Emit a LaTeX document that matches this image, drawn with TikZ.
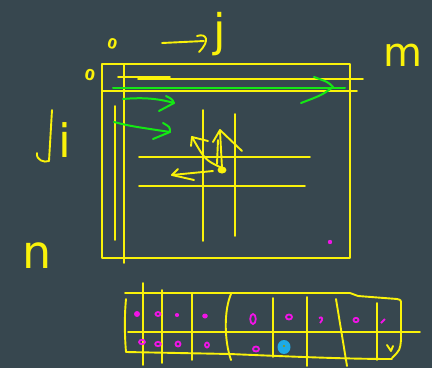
\documentclass[tikz,border=0pt]{standalone}
\usepackage{fontspec}
\newfontfamily\lblfont{DejaVu Sans}
\usetikzlibrary{arrows.meta}
\definecolor{bg}{RGB}{55,71,79}
\definecolor{yel}{RGB}{250,242,10}
\definecolor{grn}{RGB}{20,232,20}
\definecolor{mag}{RGB}{240,20,230}
\definecolor{cyn}{RGB}{30,170,230}
\tikzset{
  yl/.style={draw=yel,line width=1.9pt,line cap=round,line join=round},
  gl/.style={draw=grn,line width=2pt,line cap=round,line join=round},
  lbl/.style={text=yel,inner sep=0pt,anchor=base},
  mko/.style={draw=mag,line width=1.8pt}
}
\begin{document}
\begin{tikzpicture}[x=1pt,y=-1pt]
\fill[bg] (0,0) rectangle (432,368);
\useasboundingbox (0,0) rectangle (432,368);
% labels
\node[lbl,font=\lblfont\bfseries\fontsize{14}{14}\selectfont,rotate=-15] (z1) at (111,49) {0};
\node[lbl,font=\lblfont\bfseries\fontsize{15}{15}\selectfont,rotate=-10] (z2) at (89,80) {0};
\node[lbl,font=\lblfont\fontsize{45}{45}\selectfont] (lj) at (220,46) {j};
\node[lbl,font=\lblfont\fontsize{40}{40}\selectfont] (lm) at (403,66) {m};
\node[lbl,font=\lblfont\fontsize{46}{46}\selectfont] (li) at (65,157) {i};
\node[lbl,font=\lblfont\fontsize{46}{46}\selectfont] (ln) at (37,268) {n};
% arrows of labels
\draw[yl] (162,43) -- (204,41);
\draw[yl] (197,36) .. controls (206,33) and (211,40) .. (199,52);
\draw[yl] (52,110) -- (49,161) .. controls (44,163) and (36,160) .. (37,153);
% main rectangle and lines
\draw[yl] (102,64) rectangle (350,258);
\draw[yl] (124,64) -- (124,263);
\draw[yl] (103,90.7) -- (357,90.7);
\draw[yl] (118,77) -- (170,77);
\draw[yl] (138,79) -- (363,79);
\draw[yl] (115,106) -- (115,240);
\draw[yl] (203,110) -- (203,241);
\draw[yl] (235,114) -- (235,236);
\draw[yl] (139,157) -- (310,157);
\draw[yl] (139,186) -- (305,186);
% green arrows
\draw[gl] (113,88) -- (345,88);
\draw[gl] (314,77) .. controls (328,82) .. (333,87) .. controls (322,95) .. (301,103);
\draw[gl] (123,99) .. controls (145,97) and (160,99) .. (174,103);
\draw[gl] (166,96) .. controls (172,99) .. (174,103) -- (159,111);
\draw[gl] (114,122) .. controls (130,126) .. (170,132);
\draw[gl] (163,123) .. controls (170,127) .. (170,132) -- (153,139);
% yellow arrows from centre
\draw[yl] (222,168) .. controls (205,160) .. (192,137);
\draw[yl] (208,141) -- (192,137) -- (191,146);
\draw[yl] (222,168) -- (220,131);
\draw[yl] (217,164) -- (218,140);
\draw[yl] (213,142) -- (220,130) -- (242,151);
\draw[yl] (213,171) -- (172,175);
\draw[yl] (178,169) -- (172,175) -- (194,180);
\fill[yel] (222,170) ellipse (4.5 and 3.5);
% magenta dot
\fill[mag] (330,242) circle (2.2);
% bottom array
\draw[yl] (125,293) -- (350,293) .. controls (354,295) .. (358,296) -- (397,299) .. controls (401,300) .. (401,304) -- (401,340) .. controls (400,350) .. (392,358);
\draw[yl] (126,299) .. controls (124,320) and (125,340) .. (126,352) -- (230,354) .. controls (300,357) and (350,359) .. (392,359);
\draw[yl] (128,332) -- (420,332);
\draw[yl] (143,283) -- (143,365);
\draw[yl] (162,290) -- (162,363);
\draw[yl] (192,293) -- (192,360);
\draw[yl] (231,294) .. controls (224,310) and (224,340) .. (231,360);
\draw[yl] (273,298) -- (273,357);
\draw[yl] (307,297) -- (307,366);
\draw[yl] (336,299) -- (347,366);
\draw[yl] (377,303) -- (377,360);
\draw[yl] (387,345) -- (391,351) -- (393,346);
% marks row 1
\fill[mag] (137,314) ellipse (3 and 3);
\draw[mko] (158,314) ellipse (2.5 and 2);
\fill[mag] (177,315) ellipse (2.2 and 2);
\fill[mag] (205,316) ellipse (2.8 and 2.5);
\draw[mko] (253,319) ellipse (2.8 and 5);
\draw[mko] (289,317) ellipse (3 and 2.5);
\draw[mko] (319,318) .. controls (322,316) and (324,319) .. (320,323);
\draw[mko] (356,320) ellipse (2.5 and 2.2);
\draw[mko] (381,323) -- (385,319);
% marks row 2
\draw[mko] (142,342) ellipse (3 and 2.2);
\draw[mko] (158,344) ellipse (2.8 and 2.2);
\draw[mko] (178,344) ellipse (2.5 and 2.5);
\draw[mko] (207,345) ellipse (2 and 2.5);
\draw[mko] (256,349) ellipse (3 and 2.5);
\fill[cyn] (284,347) ellipse (6.5 and 7);
\fill[yel!60!black] (284,346) circle (1.2);
\end{tikzpicture}
\end{document}
